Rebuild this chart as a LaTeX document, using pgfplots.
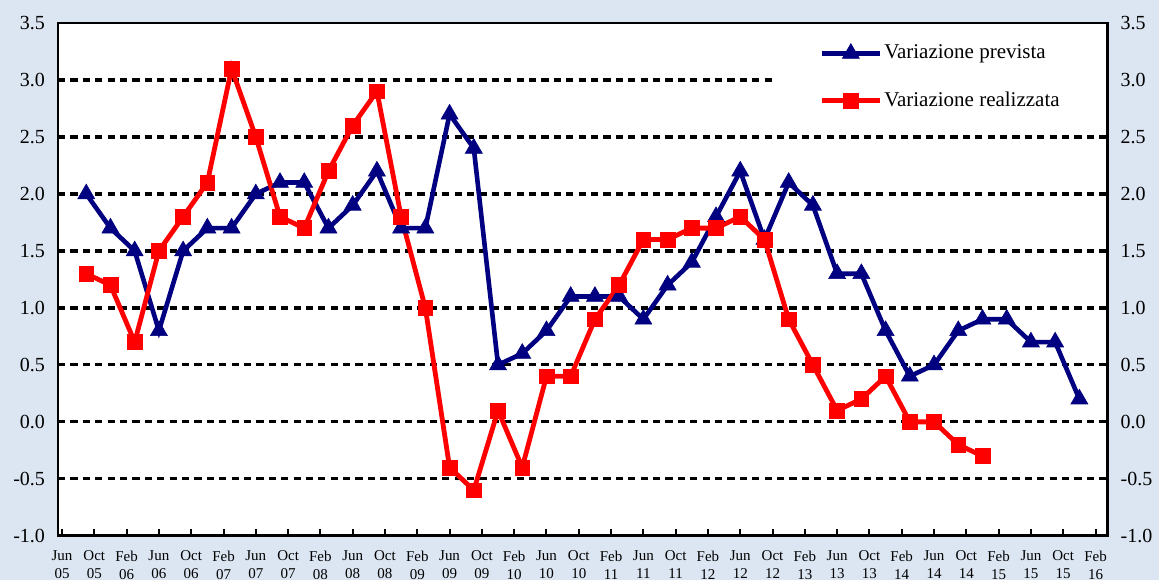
\documentclass[border=0pt]{standalone}
\usepackage{pgfplots}
\pgfplotsset{compat=1.18}
\usepackage{fontspec}
\setmainfont{Liberation Serif}
\definecolor{bgc}{HTML}{DCE6F2}
\definecolor{navy}{HTML}{000080}
\pgfplotsset{yfmt/.style={yticklabel style={/pgf/number format/fixed, /pgf/number format/fixed zerofill, /pgf/number format/precision=1, /pgf/number format/assume math mode=true}}}
\begin{document}
\begin{tikzpicture}
\fill[bgc] (-29pt,-22pt) rectangle (550.5pt,268pt);
\begin{axis}[
  at={(0,0)}, anchor=south west,
  scale only axis, width=525pt, height=256.5pt,
  xmin=-0.5, xmax=129.5, ymin=-1, ymax=3.5,
  axis background/.style={fill=white},
  axis line style={black, line width=1.4pt},
  xtick={0,4,...,128},
  xticklabels={{Jun\\05},{Oct\\05},{Feb\\06},{Jun\\06},{Oct\\06},{Feb\\07},{Jun\\07},{Oct\\07},{Feb\\08},{Jun\\08},{Oct\\08},{Feb\\09},{Jun\\09},{Oct\\09},{Feb\\10},{Jun\\10},{Oct\\10},{Feb\\11},{Jun\\11},{Oct\\11},{Feb\\12},{Jun\\12},{Oct\\12},{Feb\\13},{Jun\\13},{Oct\\13},{Feb\\14},{Jun\\14},{Oct\\14},{Feb\\15},{Jun\\15},{Oct\\15},{Feb\\16}},
  xticklabel style={align=center, font=\fontsize{7.5}{9}\selectfont, yshift=-4pt},
  xtick pos=lower,
  ytick={-1,-0.5,...,3.5},
  yfmt,
  yticklabel style={font=\fontsize{10}{12}\selectfont, xshift=-3pt},
  extra y ticks={-0.5,0,0.5,1,1.5,2,2.5,3},
  extra y tick labels={},
  extra y tick style={grid=major},
  tick align=inside,
  major tick length=3.5pt,
  tick style={black, line width=1pt},
  grid style={black, line width=1.6pt, dash pattern=on 3.6pt off 2.6pt},
  legend style={at={(rel axis cs:1,1)}, anchor=north east, xshift=-0.8pt, yshift=-0.8pt,
    draw=none, fill=white,
    inner xsep=22pt, inner ysep=8pt, row sep=11pt, font=\fontsize{10.5}{12}\selectfont,
    cells={anchor=west}, nodes={inner xsep=1pt}},
  legend image code/.code={
    \draw[#1] (0pt,0pt) -- (29pt,0pt);
    \draw[#1, only marks] plot coordinates {(14.5pt,0pt)};
  },
]
\addplot[navy, line width=2.3pt, mark=triangle*, mark size=4.9pt, mark options={solid, line width=0.3pt}] coordinates {
(3,2.0)(6,1.7)(9,1.5)(12,0.8)(15,1.5)(18,1.7)(21,1.7)(24,2.0)(27,2.1)(30,2.1)(33,1.7)(36,1.9)(39,2.2)(42,1.7)(45,1.7)(48,2.7)(51,2.4)(54,0.5)(57,0.6)(60,0.8)(63,1.1)(66,1.1)(69,1.1)(72,0.9)(75,1.2)(78,1.4)(81,1.8)(84,2.2)(87,1.6)(90,2.1)(93,1.9)(96,1.3)(99,1.3)(102,0.8)(105,0.4)(108,0.5)(111,0.8)(114,0.9)(117,0.9)(120,0.7)(123,0.7)(126,0.2)};
\addlegendentry{Variazione prevista}
\addplot[red, line width=2.4pt, mark=square*, mark size=3.7pt, mark options={solid, line width=0.3pt}] coordinates {
(3,1.3)(6,1.2)(9,0.7)(12,1.5)(15,1.8)(18,2.1)(21,3.1)(24,2.5)(27,1.8)(30,1.7)(33,2.2)(36,2.6)(39,2.9)(42,1.8)(45,1.0)(48,-0.4)(51,-0.6)(54,0.1)(57,-0.4)(60,0.4)(63,0.4)(66,0.9)(69,1.2)(72,1.6)(75,1.6)(78,1.7)(81,1.7)(84,1.8)(87,1.6)(90,0.9)(93,0.5)(96,0.1)(99,0.2)(102,0.4)(105,0.0)(108,0.0)(111,-0.2)(114,-0.3)};
\addlegendentry{Variazione realizzata}
\end{axis}
\begin{axis}[
  at={(0,0)}, anchor=south west,
  scale only axis, width=525pt, height=256.5pt,
  xmin=-0.5, xmax=129.5, ymin=-1, ymax=3.5,
  hide x axis,
  axis y line*=right,
  y axis line style={draw=none},
  ytick={-1,-0.5,...,3.5},
  ytick style={draw=none},
  yfmt,
  yticklabel style={font=\fontsize{10}{12}\selectfont, xshift=3pt},
]
\addplot[draw=none] coordinates {(0,0)};
\end{axis}
\end{tikzpicture}
\end{document}
